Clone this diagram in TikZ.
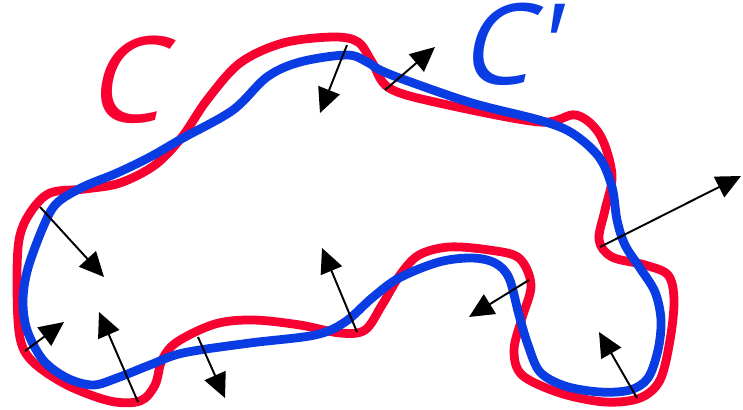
\documentclass[tikz,border=0pt]{standalone}
\usepackage{fontspec}
\usepackage{tikz}
\usetikzlibrary{arrows.meta}
\newfontfamily\curvefont[FakeSlant=0.22]{Open Sans}
\definecolor{curvered}{RGB}{248,0,48}
\definecolor{curveblue}{RGB}{10,60,228}

\begin{document}
\begin{tikzpicture}[x=0.02cm,y=-0.02cm,>={Triangle[length=14pt,width=13pt]},
    oldcurve/.style={curvered,line width=5pt,line join=round},
    newcurve/.style={curveblue,line width=5pt,line join=round},
    normal/.style={->,black,line width=1.1pt},
    curvelabel/.style={font=\curvefont\fontsize{68}{68}\selectfont,inner sep=0pt,anchor=base}]
  \useasboundingbox (0,0) rectangle (743,409);
  % original curve C
  \draw[oldcurve] plot[smooth cycle,tension=0.55] coordinates {
    (30,213) (50,193) (85,189) (120,183) (155,165) (182,137) (207,100)
    (240,63) (283,43) (333,37) (358,42) (372,62) (389,88) (439,103)
    (539,122) (576,115) (600,135) (612,175) (605,210) (599,240) (612,257)
    (645,265) (668,275) (674,300) (670,340) (660,380) (640,398) (605,402)
    (560,393) (522,375) (514,350) (522,318) (531,285) (519,258) (489,250)
    (449,247) (419,255) (400,275) (382,305) (365,330) (340,333) (300,325)
    (253,320) (215,324) (177,342) (162,360) (155,385) (140,401) (110,401)
    (67,385) (33,362) (20,338) (17,288) (19,240)};
  % deformed curve C'
  \draw[newcurve] plot[smooth cycle,tension=0.55] coordinates {
    (44,225) (57,203) (83,187) (117,173) (150,157) (183,138) (233,110)
    (267,77) (300,62) (347,55) (367,62) (380,70) (405,80) (472,103)
    (539,120) (572,133) (599,157) (612,187) (617,220) (625,245) (640,268)
    (655,292) (661,320) (658,350) (648,378) (630,390) (600,392) (565,386)
    (540,372) (528,345) (519,315) (509,278) (495,263) (472,258) (439,262)
    (399,278) (372,298) (345,322) (315,335) (250,343) (183,353) (150,365)
    (117,378) (93,385) (67,378) (43,360) (27,330) (23,300) (28,268)};
  % normal displacements
  \foreach \sx/\sy/\tx/\ty in {347/45/320/113, 385/90/435/47, 600/247/741/176,
      529/280/469/317, 637/398/599/332, 357/332/322/248, 198/337/225/398,
      138/402/99/312, 25/351/64/322, 40/207/104/277}
    \draw[normal] (\sx,\sy) -- (\tx,\ty);
  \node[curvelabel,text=curvered] (labelC) at (124,122) {C};
  \node[curvelabel,text=curveblue,font=\curvefont\fontsize{64}{64}\selectfont] (labelCp) at (507,84) {C'};
\end{tikzpicture}
\end{document}
